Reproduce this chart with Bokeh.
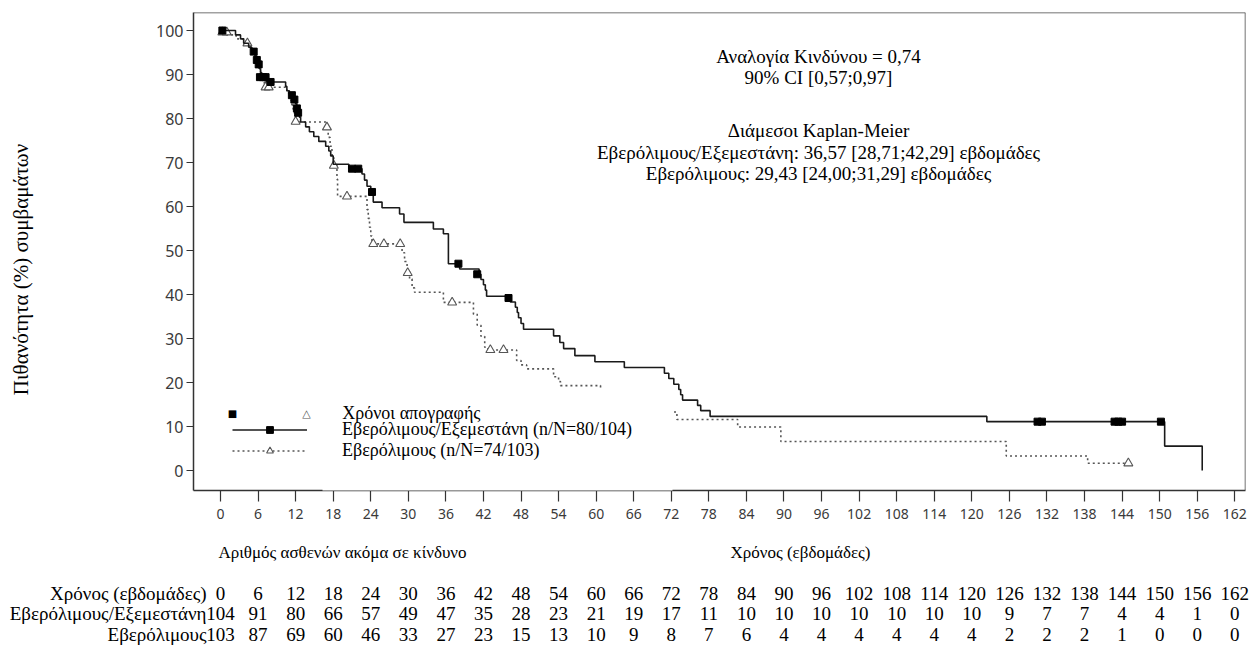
import math
from bokeh.plotting import figure
from bokeh.layouts import column, row
from bokeh.models import (Label, Legend, LegendItem, BoxAnnotation, Span,
                          FixedTicker, Range1d)
from bokeh.embed import file_html
from bokeh.resources import INLINE

# ---------------- data ----------------
x_ticks = list(range(0, 163, 6))
y_ticks = list(range(0, 101, 10))

risk_weeks = list(range(0, 163, 6))
risk_combo = [104, 91, 80, 66, 57, 49, 47, 35, 28, 23, 21, 19, 17, 11,
              10, 10, 10, 10, 10, 10, 10, 9, 7, 7, 4, 4, 1, 0]
risk_evero = [103, 87, 69, 60, 46, 33, 27, 23, 15, 13, 10, 9, 8, 7,
              6, 4, 4, 4, 4, 4, 4, 2, 2, 2, 1, 0, 0, 0]

# Everolimus/Exemestane KM steps (weeks, %)
combo_t = [0, 2.4, 3.2, 3.7, 4.5, 5.0, 5.5, 5.8, 6.0, 6.2,
           6.4, 6.6, 7.3, 10.4, 10.6, 11.0, 11.7, 12.0, 12.2, 12.4,
           12.6, 12.8, 13.6, 14.2, 14.9, 15.7, 16.8, 17.3, 17.6, 18.0,
           20.5, 22.6, 23.0, 23.4, 24.0, 24.4, 25.8, 28.6, 29.3, 34.0,
           35.6, 36.4, 38.2, 41.3, 41.6, 42.0, 42.3, 42.5, 46.3, 47.1,
           47.4, 47.6, 48.0, 48.4, 53.2, 54.2, 54.8, 56.6, 59.8, 64.5,
           70.9, 71.6, 72.4, 73.2, 73.5, 73.8, 76.2, 76.7, 78.2, 122.4,
           150.8, 156.8]
combo_s = [100, 99.0, 98.1, 97.1, 96.2, 95.2, 94.2, 93.3, 92.3, 91.3,
           90.4, 89.4, 88.3, 87.3, 86.3, 85.3, 84.3, 83.3, 82.3, 81.3,
           80.3, 79.2, 78.1, 77.0, 75.9, 74.8, 73.7, 72.6, 71.5, 69.6,
           68.6, 67.4, 66.0, 64.6, 63.3, 61.0, 59.7, 58.3, 56.4, 54.9,
           53.8, 47.0, 45.8, 44.6, 43.4, 42.2, 41.0, 39.6, 38.3, 37.1,
           35.9, 34.7, 33.4, 32.1, 30.6, 29.1, 27.7, 26.1, 24.7, 23.4,
           22.1, 20.9, 19.6, 18.4, 17.2, 16.0, 14.8, 13.6, 12.3, 11.1,
           5.55, 0]
combo_cens_t = [0.3, 5.3, 5.8, 6.1, 6.3, 6.8, 7.2, 8.0, 11.4, 11.8, 12.2, 12.4,
                21.0, 22.0, 24.2, 38.0, 41.0, 46.0, 130.5, 131.2, 142.8, 143.4,
                144.0, 150.2]
combo_cens_s = [100, 95.2, 93.3, 92.3, 89.4, 89.4, 89.4, 88.3, 85.3, 84.3, 82.3, 81.3,
                68.6, 68.6, 63.3, 47.0, 44.6, 39.2, 11.1, 11.1, 11.1, 11.1,
                11.1, 11.1]

# Everolimus KM steps (weeks, %)
evero_t = [0, 1.0, 2.5, 4.0, 4.8, 5.2, 5.5, 5.8, 6.0, 6.2,
           6.4, 6.6, 6.8, 7.0, 10.6, 10.9, 11.2, 11.4, 11.6, 11.8,
           12.0, 12.2, 16.9, 17.2, 17.5, 17.8, 18.1, 18.6, 18.7, 23.4,
           23.6, 23.8, 24.0, 24.2, 29.0, 29.4, 29.8, 30.2, 30.6, 31.0,
           35.6, 40.4, 41.0, 41.6, 42.2, 42.7, 47.3, 48.0, 48.9, 53.2,
           54.0, 54.3, 60.7, 65.0, 69.0, 72.9, 82.6, 89.5, 125.5, 138.5,
           145.0]
evero_s = [100, 99.0, 98.1, 97.1, 96.1, 95.1, 94.2, 93.2, 92.2, 91.3,
           90.3, 89.3, 88.3, 87.1, 86.1, 85.1, 84.1, 83.1, 82.1, 81.1,
           80.2, 79.2, 77.7, 75.7, 73.7, 71.7, 69.3, 66.2, 62.3, 59.3,
           57.3, 55.3, 53.3, 51.5, 49.5, 47.5, 45.5, 43.5, 41.5, 40.5,
           38.2, 35.5, 33.0, 30.5, 28.0, 27.4, 25.0, 24.0, 23.1, 21.3,
           20.2, 19.3, 17.4, 15.4, 13.3, 11.6, 9.9, 6.6, 3.3, 1.65,
           1.65]
evero_cens_t = [0.3, 1.0, 4.3, 7.2, 7.7, 12.0, 17.0, 18.1, 20.2, 24.4, 26.1, 28.7,
                29.9, 37.0, 43.1, 45.2, 145.0]
evero_cens_s = [99.6, 99.6, 97.1, 87.1, 87.1, 79.3, 78.0, 69.3, 62.3, 51.5, 51.5, 51.5,
                44.9, 38.2, 27.4, 27.4, 1.65]

stats_lines = ["Αναλογία Κινδύνου = 0,74",
               "90% CI [0,57;0,97]",
               "Διάμεσοι Kaplan-Meier",
               "Εβερόλιμους/Εξεμεστάνη: 36,57 [28,71;42,29] εβδομάδες",
               "Εβερόλιμους: 29,43 [24,00;31,29] εβδομάδες"]
legend_labels = ["Χρόνοι απογραφής",
                 "Εβερόλιμους/Εξεμεστάνη (n/N=80/104)",
                 "Εβερόλιμους (n/N=74/103)"]
risk_row_labels = ["Χρόνος (εβδομάδες)", "Εβερόλιμους/Εξεμεστάνη", "Εβερόλιμους"]
y_label = "Πιθανότητα (%) συμβαμάτων"
x_label = "Χρόνος (εβδομάδες)"
risk_title = "Αριθμός ασθενών ακόμα σε κίνδυνο"

# ---------------- layout ----------------
W, H = 1250, 653
LEFTW = 40                   # width of the y-label strip
TOPH = 530                   # height of the chart row
FL, FR, FT, FB = 193, 1245, 12, 490
X0PX, PXW = 220.0, 6.261     # px of week 0, px per week
Y0PY, PYU = 470.0, 4.4       # px of 0 %, px per %

SERIF = "Liberation Serif"
SANS = "Noto Sans"


def X(px):
    return (px - X0PX) / PXW


def Y(py):
    return (Y0PY - py) / PYU


def blank(width, height, xr, yr):
    f = figure(width=width, height=height, output_backend="svg", toolbar_location=None,
               x_range=xr, y_range=yr, x_axis_type=None, y_axis_type=None,
               min_border=0, min_border_left=0, min_border_right=0,
               min_border_top=0, min_border_bottom=0)
    f.title.visible = False
    f.grid.visible = False
    f.outline_line_color = None
    f.background_fill_color = "white"
    f.border_fill_color = "white"
    return f


def txt(fig, text, x, y, align="left", size="19px", font=SERIF, color="black", angle=0.0):
    fig.add_layout(Label(x=x, y=y, text=text, text_align=align, text_baseline="middle",
                         text_font=font, text_font_size=size, text_color=color,
                         angle=angle))


# ---- main chart ----
p = figure(width=W - LEFTW, height=TOPH, output_backend="svg", toolbar_location=None,
           x_range=Range1d(X(FL), X(FR)), y_range=Range1d(Y(FB), Y(FT)),
           min_border_left=FL - LEFTW, min_border_right=W - FR,
           min_border_top=FT, min_border_bottom=TOPH - FB)
p.title.visible = False
p.grid.visible = False
p.outline_line_color = None
p.background_fill_color = "white"
p.border_fill_color = "white"

for ax in (p.xaxis, p.yaxis):
    ax.axis_line_color = "#333333"
    ax.axis_line_width = 1.5
    ax.major_tick_line_color = "#333333"
    ax.major_tick_line_width = 1.2
    ax.minor_tick_line_color = None
    ax.major_tick_in = 0
    ax.major_label_text_font = SANS
    ax.major_label_text_color = "#3a3a3a"
p.xaxis.ticker = FixedTicker(ticks=x_ticks)
p.yaxis.ticker = FixedTicker(ticks=y_ticks)
p.xaxis.major_tick_out = 11
p.yaxis.major_tick_out = 7
p.xaxis.major_label_text_font_size = "14px"
p.yaxis.major_label_text_font_size = "16px"
p.xaxis.major_label_standoff = 7
p.yaxis.major_label_standoff = 3

# frame top / right
p.add_layout(Span(location=Y(FT), dimension="width", line_color="#444444", line_width=1.5))
p.add_layout(Span(location=X(FR), dimension="height", line_color="#444444", line_width=1.5))

# curves
r_ev_line = p.step(evero_t, evero_s, mode="after", line_color="#555555",
                   line_width=1.6, line_dash="2 3")
r_ev_tri = p.scatter(evero_cens_t, evero_cens_s, marker="triangle", size=9,
                     fill_color="white", line_color="#555555", line_width=1.1)
r_co_line = p.step(combo_t, combo_s, mode="after", line_color="#1a1a1a", line_width=1.6)
r_co_sq = p.scatter(combo_cens_t, combo_cens_s, marker="square", size=7,
                    fill_color="black", line_color="black")

# white patch present in the source image
p.add_layout(BoxAnnotation(left=X(322), right=X(672), bottom=Y(492.5), top=Y(389),
                           fill_color="white", fill_alpha=1.0, line_color=None,
                           level="annotation"))

legend = Legend(items=[LegendItem(label=legend_labels[1], renderers=[r_co_line, r_co_sq]),
                       LegendItem(label=legend_labels[2], renderers=[r_ev_line, r_ev_tri])],
                location=(39, 29), glyph_width=75, glyph_height=17, label_height=17,
                label_standoff=35, spacing=-1, padding=0, margin=0,
                border_line_color=None, background_fill_alpha=0,
                label_text_font=SERIF, label_text_font_size="18px",
                label_text_color="black")
p.add_layout(legend)

txt(p, "■", X(232), Y(413), align="center", size="10px", font="DejaVu Sans")
txt(p, "△", X(306), Y(413), align="center", size="11px", font="DejaVu Sans", color="#555555")
txt(p, legend_labels[0], X(341.7), Y(412), size="18px")

for line, py in zip(stats_lines, [56, 77, 130, 152, 173]):
    txt(p, line, X(818), Y(py), align="center", size="19px")

# ---- y-label strip (screen-like coordinates: y grows downward) ----
ylab = blank(LEFTW, TOPH, Range1d(0, LEFTW), Range1d(TOPH, 0))
txt(ylab, y_label, 20, 285, align="center", angle=math.pi / 2, size="21px")

# ---- risk table strip ----
tbl = blank(W, H - TOPH, Range1d(X(0), X(W)), Range1d(H, TOPH))
txt(tbl, risk_title, X(342), 552, align="center", size="17px")
txt(tbl, x_label, X(800), 552, align="center", size="17px")
rows_py = [593, 613, 634]
for lab, py in zip(risk_row_labels, rows_py):
    txt(tbl, lab, X(206), py, align="right", size="19px")
for w, a, b in zip(risk_weeks, risk_combo, risk_evero):
    txt(tbl, str(w), w, rows_py[0], align="center", size="19px")
    txt(tbl, str(a), w, rows_py[1], align="center", size="19px")
    txt(tbl, str(b), w, rows_py[2], align="center", size="19px")

layout = column(row(ylab, p, spacing=0), tbl, spacing=0)
open("out.html", "w").write(file_html(layout, INLINE))
